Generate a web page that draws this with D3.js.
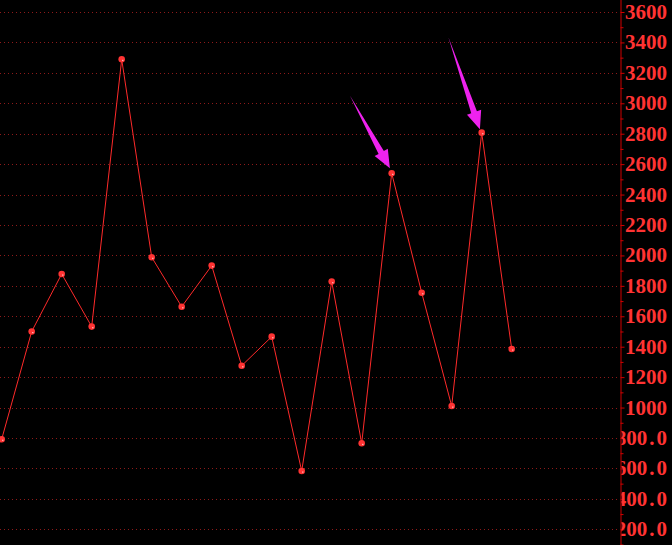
<!DOCTYPE html>
<html>
<head>
<meta charset="utf-8">
<script src="https://cdn.jsdelivr.net/npm/d3@7/dist/d3.min.js"></script>
<style>
  html, body { margin: 0; padding: 0; background: #000; }
  svg { display: block; }
</style>
</head>
<body>
<div id="chart"></div>
<script>
// ---- data ----
const categories = d3.range(18);
const values = [792, 1500, 1878, 1532, 3289, 1988, 1663, 1933, 1275, 1466, 583, 1828, 765, 2540, 1755, 1010, 2807, 1385];
const tickValues = [200, 400, 600, 800, 1000, 1200, 1400, 1600, 1800, 2000, 2200, 2400, 2600, 2800, 3000, 3200, 3400, 3600];
const tickLabels = ["200.0", "400.0", "600.0", "800.0", "1000", "1200", "1400", "1600", "1800", "2000", "2200", "2400", "2600", "2800", "3000", "3200", "3400", "3600"];
const minorTicks = d3.range(100, 3700, 200);
// arrow annotations: tail and tip in (index, value) data space
const arrowTails = [[11.61, 3050], [14.89, 3434]];
const arrowTips = [[12.94, 2573], [15.94, 2829]];

const W = 672, H = 545;
const axisX = 620.5;

const svg = d3.select("#chart").append("svg")
  .attr("width", W).attr("height", H)
  .style("background", "#000");

const x = d3.scaleLinear().domain([0, 17]).range([1.7, 511.7]);
const y = d3.scaleLinear().domain([0, 3600]).range([559.7, 12]);

// gridlines
svg.append("g").selectAll("line").data(tickValues).join("line")
  .attr("x1", 0).attr("x2", axisX - 1)
  .attr("y1", d => Math.round(y(d)) + 0.5).attr("y2", d => Math.round(y(d)) + 0.5)
  .attr("stroke", "#8e1a1a").attr("stroke-width", 1)
  .attr("stroke-dasharray", "1,3");

// right axis
const axis = d3.axisRight(y).tickValues(tickValues).tickSize(4).tickFormat("");
const ag = svg.append("g").attr("transform", `translate(${axisX},0)`).call(axis);
ag.select(".domain").attr("stroke", "#d00000").attr("d", `M0.5,0V${H}`);
ag.selectAll(".tick line").attr("stroke", "#d00000");
const minorAxis = d3.axisRight(y).tickValues(minorTicks).tickSize(3).tickFormat("");
const mg = svg.append("g").attr("transform", `translate(${axisX},0)`).call(minorAxis);
mg.select(".domain").remove();
mg.selectAll(".tick line").attr("stroke", "#d00000");

// labels (clipped at axis)
svg.append("clipPath").attr("id", "lblclip")
  .append("rect").attr("x", axisX + 1).attr("y", 0).attr("width", W).attr("height", H);
const lbl = svg.append("g").attr("clip-path", "url(#lblclip)")
  .selectAll("text").data(tickValues).join("text")
  .attr("x", 667)
  .attr("y", d => y(d) + 7)
  .attr("text-anchor", "end")
  .attr("fill", "#ff3333")
  .attr("font-family", "'Liberation Serif', 'DejaVu Serif', serif")
  .attr("font-weight", "bold")
  .attr("font-size", "21px");
lbl.each(function(d, i) {
  const t = d3.select(this);
  const parts = tickLabels[i].split(".");
  t.append("tspan").text(parts[0]);
  if (parts.length > 1) {
    t.append("tspan").attr("dx", 2).text(".");
    t.append("tspan").attr("dx", 2).text(parts[1]);
  }
});

// line
const line = d3.line().x((d, i) => x(categories[i])).y(d => y(d));
svg.append("path").datum(values)
  .attr("d", line)
  .attr("fill", "none")
  .attr("stroke", "#ff2a2a")
  .attr("stroke-width", 1);

// markers
const pts = svg.append("g").selectAll("g").data(values).join("g")
  .attr("transform", (d, i) => `translate(${x(categories[i])},${y(d)})`);
pts.append("path")
  .attr("d", d3.symbol(d3.symbolCircle, 34)())
  .attr("fill", "#ff3333");
pts.append("rect").attr("x", 0.5).attr("y", 0.5).attr("width", 1.2).attr("height", 1.2)
  .attr("fill", "#ffd0d0");

// arrows
function arrowPath(tail, tip) {
  const tx = x(tail[0]), ty = y(tail[1]);
  const hx = x(tip[0]), hy = y(tip[1]);
  const dx = hx - tx, dy = hy - ty;
  const L = Math.hypot(dx, dy);
  const ux = dx / L, uy = dy / L;
  const nx = -uy, ny = ux;
  const headLen = 18, headW = 7.5, shaftW = 3;
  const bx = hx - ux * headLen, by = hy - uy * headLen;
  const p = [
    [tx, ty],
    [bx + nx * shaftW, by + ny * shaftW],
    [bx + nx * headW, by + ny * headW],
    [hx, hy],
    [bx - nx * headW, by - ny * headW],
    [bx - nx * shaftW, by - ny * shaftW]
  ];
  return "M" + p.map(q => q.join(",")).join("L") + "Z";
}
svg.append("g").selectAll("path").data(arrowTails).join("path")
  .attr("d", (d, i) => arrowPath(d, arrowTips[i]))
  .attr("fill", "#ee22ee");
</script>
</body>
</html>
